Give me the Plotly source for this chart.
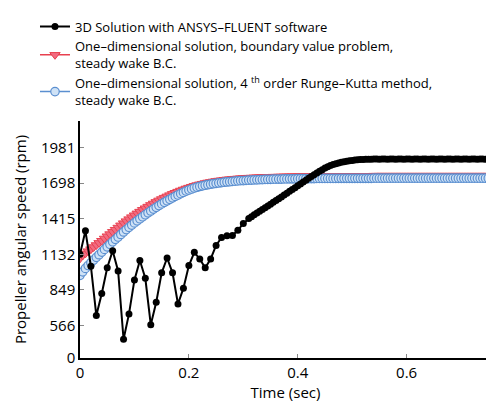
import numpy as np
import plotly.graph_objects as go

# ---------------- data ----------------
# 3D ANSYS-FLUENT solution: coarse part (step 0.01 s) then dense part (step 0.005 s)
fluent_t_coarse = np.round(np.arange(0, 32) * 0.01, 3)
fluent_v_coarse = [1132, 1319, 1038, 645, 820, 1025, 1161, 999, 456, 658,
                   928, 1083, 941, 572, 750, 985, 1103, 985, 737, 863,
                   1043, 1148, 1095, 1025, 1095, 1203, 1266, 1279, 1282, 1323,
                   1378, 1417]
fluent_t_dense = np.round(0.315 + np.arange(0, 88) * 0.005, 3)
fluent_v_dense = [1432, 1446, 1460, 1475, 1489, 1503, 1517, 1531, 1546, 1560,
                  1575, 1589, 1604, 1618, 1633, 1648, 1662, 1677, 1692, 1707,
                  1722, 1737, 1752, 1766, 1780, 1793, 1806, 1818, 1829, 1838,
                  1846, 1853, 1859, 1864, 1868, 1872, 1876, 1879, 1882, 1884,
                  1886, 1887, 1888, 1889,
                  1889, 1890, 1890, 1889, 1890, 1890, 1889, 1890, 1890, 1889,
                  1890, 1890, 1889, 1890, 1890, 1889, 1890, 1890, 1889, 1890,
                  1890, 1889, 1890, 1890, 1889, 1890, 1890, 1889, 1890, 1890,
                  1889, 1890, 1890, 1889, 1890, 1890, 1889, 1890, 1890, 1889,
                  1890, 1890, 1889, 1890]
fluent_t = list(fluent_t_coarse) + list(fluent_t_dense)
fluent_v = fluent_v_coarse + fluent_v_dense

# One-dimensional solutions (step 0.005 s)
oned_t = np.round(np.arange(0, 151) * 0.005, 3)
bvp_v = [1100, 1123, 1140, 1157, 1173, 1190, 1206, 1223, 1240, 1258,
         1276, 1293, 1311, 1328, 1345, 1363, 1380, 1396, 1412, 1428,
         1443, 1458, 1472, 1486, 1499, 1512, 1525, 1537, 1549, 1561,
         1572, 1583, 1593, 1603, 1613, 1622, 1631, 1640, 1648, 1656,
         1663, 1670, 1677, 1683, 1689, 1694, 1699, 1704, 1708, 1712,
         1716, 1719, 1722, 1725, 1728, 1730, 1732, 1734, 1736, 1738,
         1739, 1741, 1742, 1743, 1744, 1745, 1746, 1747, 1748, 1748,
         1749, 1750, 1750, 1751, 1751, 1752, 1752, 1753, 1753, 1753,
         1754, 1754, 1754, 1755, 1755, 1755, 1755, 1756, 1756, 1756,
         1756, 1756, 1756, 1756, 1756, 1757, 1757, 1757, 1757, 1757,
         1757, 1757, 1757, 1757, 1757, 1757, 1757, 1757, 1758, 1758,
         1758, 1758, 1758, 1758, 1758, 1758, 1758, 1758, 1758, 1758,
         1758, 1758, 1758, 1758, 1758, 1758, 1758, 1758, 1758, 1758,
         1758, 1758, 1758, 1758, 1758, 1758, 1758, 1758, 1758, 1758,
         1758, 1758, 1758, 1758, 1758, 1758, 1758, 1758, 1758, 1758,
         1758]
rk4_v = [965, 993, 1020, 1043, 1065, 1087, 1108, 1129, 1150, 1171,
         1192, 1212, 1232, 1251, 1270, 1290, 1310, 1329, 1347, 1365,
         1382, 1399, 1415, 1431, 1447, 1462, 1477, 1492, 1506, 1520,
         1533, 1546, 1558, 1570, 1582, 1593, 1604, 1615, 1625, 1635,
         1644, 1652, 1660, 1666, 1672, 1677, 1682, 1686, 1690, 1694,
         1697, 1700, 1703, 1706, 1708, 1710, 1712, 1714, 1716, 1718,
         1719, 1721, 1722, 1723, 1724, 1725, 1726, 1727, 1728, 1728,
         1729, 1730, 1730, 1731, 1731, 1732, 1732, 1733, 1733, 1733,
         1734, 1734, 1734, 1735, 1735, 1735, 1735, 1736, 1736, 1736,
         1736, 1736, 1736, 1736, 1736, 1737, 1737, 1737, 1737, 1737,
         1737, 1737, 1737, 1737, 1737, 1737, 1737, 1737, 1738, 1738,
         1738, 1738, 1738, 1738, 1738, 1738, 1738, 1738, 1738, 1738,
         1738, 1738, 1738, 1738, 1738, 1738, 1738, 1738, 1738, 1738,
         1738, 1738, 1738, 1738, 1738, 1738, 1738, 1738, 1738, 1738,
         1738, 1738, 1738, 1738, 1738, 1738, 1738, 1738, 1738, 1738,
         1738]

# y tick positions and their printed labels (bottom of axis is labelled 0)
y_tickvals = [307, 566, 849, 1132, 1415, 1698, 1981]
y_ticktext = ["0", "566", "849", "1132", "1415", "1698", "1981"]
x_tickvals = [0, 0.2, 0.4, 0.6]
x_ticktext = ["0", "0.2", "0.4", "0.6"]

names = ["3D Solution with ANSYS\u2013FLUENT software",
         "One\u2013dimensional solution, boundary value problem,<br>steady wake B.C.",
         "One\u2013dimensional solution, 4 <sup>th</sup> order Runge\u2013Kutta method,<br>steady wake B.C."]

FONT = "Open Sans, Liberation Sans, sans-serif"

fig = go.Figure()
fig.add_trace(go.Scatter(
    x=oned_t, y=bvp_v, name=names[1], mode="lines+markers", legendrank=2,
    line=dict(color="#e8404f", width=1.5),
    marker=dict(symbol="triangle-down", size=9, color="#f26b80",
                line=dict(color="#e8404f", width=1))))
fig.add_trace(go.Scatter(
    x=oned_t, y=rk4_v, name=names[2], mode="lines+markers", legendrank=3,
    line=dict(color="#5b8fd0", width=1.5),
    marker=dict(symbol="circle", size=8.5, color="#cfe2f6",
                line=dict(color="#5b8fd0", width=1.2))))
fig.add_trace(go.Scatter(
    x=fluent_t, y=fluent_v, name=names[0], mode="lines+markers", legendrank=1,
    line=dict(color="black", width=2),
    marker=dict(symbol="circle", size=7, color="black")))

# the page body adds an 8px margin, so the figure is sized 8px smaller
fig.update_layout(
    width=486, height=397,
    margin=dict(l=72, r=3, t=110, b=47),
    paper_bgcolor="white", plot_bgcolor="white",
    font=dict(family=FONT, color="black", size=13),
    showlegend=True,
    legend=dict(x=-0.1095, y=1.462, xanchor="left", yanchor="top",
                bgcolor="rgba(0,0,0,0)", borderwidth=0,
                font=dict(family=FONT, size=13, color="black"),
                itemwidth=30),
    xaxis=dict(range=[0, 0.755], tickvals=x_tickvals, ticktext=x_ticktext,
               showgrid=False, zeroline=False, showline=True, automargin=False,
               linecolor="black", linewidth=1.5, ticks="inside", ticklen=4,
               tickcolor="#888", tickfont=dict(size=15, family=FONT),
               title=dict(text="Time (sec)", font=dict(size=15, family=FONT),
                          standoff=2)),
    yaxis=dict(range=[307, 2193], tickvals=y_tickvals, ticktext=y_ticktext,
               showgrid=False, zeroline=False, showline=True, automargin=False,
               linecolor="black", linewidth=1.5, ticks="inside", ticklen=4,
               tickcolor="#888", tickfont=dict(size=15, family=FONT),
               title=dict(text="Propeller angular speed (rpm)",
                          font=dict(size=15, family=FONT), standoff=11)),
)

fig.write_html("out.html")
